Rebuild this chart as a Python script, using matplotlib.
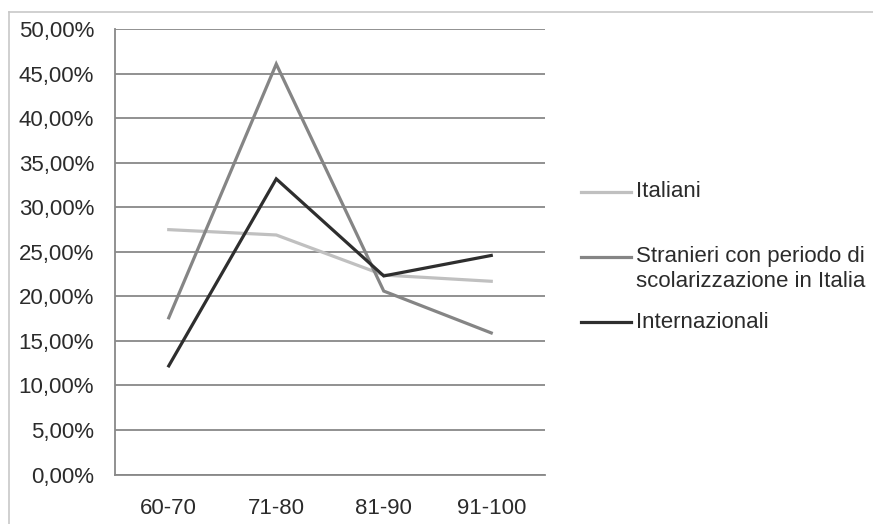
import matplotlib
matplotlib.use("Agg")
import matplotlib.pyplot as plt
from matplotlib.lines import Line2D
from matplotlib.ticker import FuncFormatter

# Data
categories = ["60-70", "71-80", "81-90", "91-100"]
italiani = [27.5, 26.9, 22.4, 21.7]
stranieri = [17.6, 46.1, 20.6, 15.9]
internazionali = [12.2, 33.2, 22.3, 24.6]
series_labels = ["Italiani", "Stranieri con periodo di\nscolarizzazione in Italia", "Internazionali"]
series_colors = ["#c0c0c0", "#858585", "#2e2e2e"]

plt.rcParams['font.family'] = ['Liberation Sans', 'DejaVu Sans']
text_color = "#2b2b2b"
grid_color = "#888888"
fs = 16

W, H = 873, 524
fig = plt.figure(figsize=(W / 100, H / 100), dpi=100)
ax = fig.add_axes([115 / W, (H - 474.5) / H, (545 - 115) / W, (474.5 - 29.3) / H])

x = list(range(len(categories)))
for vals, col in zip([italiani, stranieri, internazionali], series_colors):
    ax.plot(x, vals, color=col, lw=2.3, solid_joinstyle='miter', zorder=3)

ax.set_xlim(-0.5, len(categories) - 0.5)
ax.set_ylim(0, 50)
ax.set_yticks(range(0, 51, 5))
ax.yaxis.set_major_formatter(FuncFormatter(lambda v, p: f"{v:.2f}".replace(".", ",") + "%"))
ax.set_xticks(x)
ax.set_xticklabels(categories)

ax.grid(axis='y', color=grid_color, lw=1.3, zorder=1)
ax.set_axisbelow(True)
for s in ['top', 'right']:
    ax.spines[s].set_visible(False)
for s in ['left', 'bottom']:
    ax.spines[s].set_color(grid_color)
    ax.spines[s].set_linewidth(1.3)
ax.tick_params(axis='y', length=0, pad=15, labelsize=fs, labelcolor=text_color)
ax.tick_params(axis='x', length=0, pad=17, labelsize=fs, labelcolor=text_color)

# Legend drawn by hand to mimic the spacing of the original
legend_y = [192, 257, 322]
for lab, col, yy in zip(series_labels, series_colors, legend_y):
    fy = 1 - yy / H
    fig.add_artist(Line2D([581 / W, 631 / W], [fy, fy], color=col, lw=2.3))
    if "\n" in lab:
        fig.text(636 / W, fy + 11 / H, lab, ha='left', va='top', fontsize=fs,
                 color=text_color, linespacing=1.25)
    else:
        fig.text(636 / W, fy, lab, ha='left', va='center', fontsize=fs, color=text_color)

# outer frame (left and top edges visible)
fig.add_artist(Line2D([9 / W, 9 / W], [0, 1 - 12 / H], color="#c8c8c8", lw=1.2))
fig.add_artist(Line2D([9 / W, 1], [1 - 12 / H, 1 - 12 / H], color="#c8c8c8", lw=1.2))

fig.savefig("out.png", dpi=100)
